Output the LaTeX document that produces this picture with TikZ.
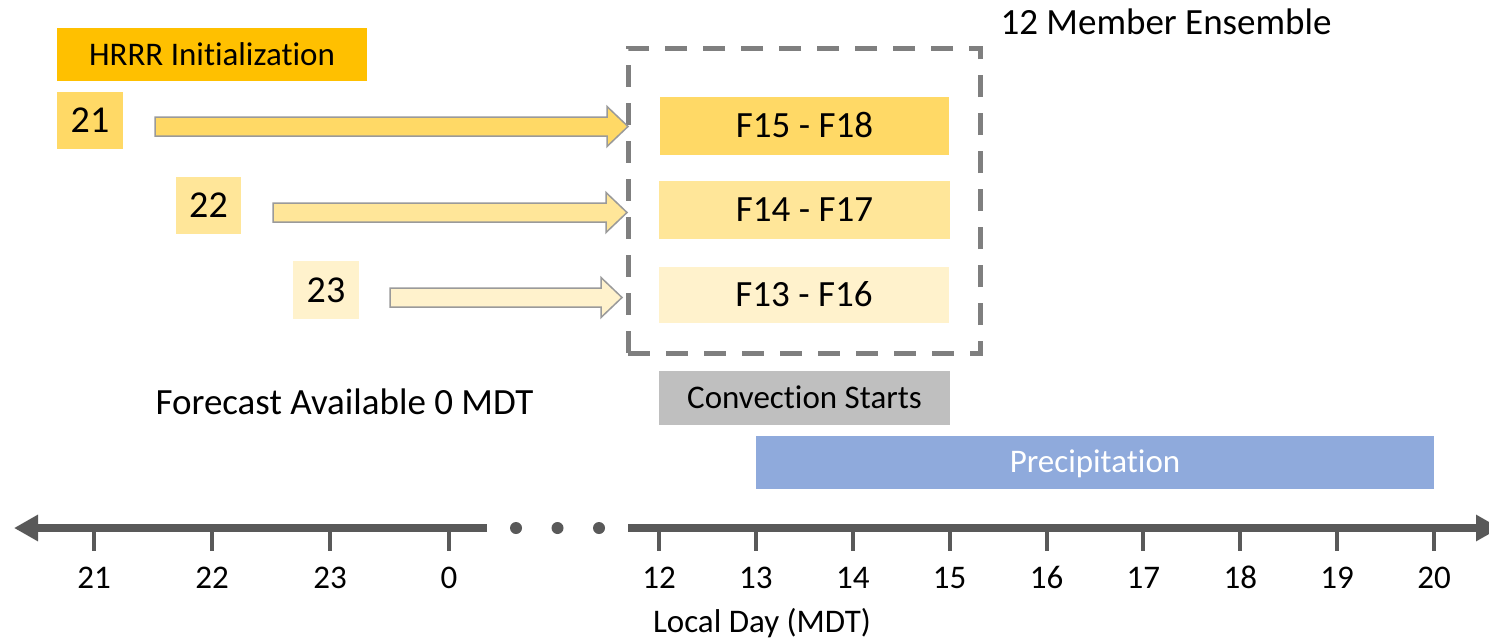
\documentclass[tikz,border=0pt]{standalone}
\usepackage{fontspec}
\setmainfont{Carlito}[Ligatures={NoCommon}]
\usetikzlibrary{arrows.meta,calc}
\definecolor{hrrr}{HTML}{FFC000}
\definecolor{cA}{HTML}{FFD966}
\definecolor{cB}{HTML}{FFE699}
\definecolor{cC}{HTML}{FFF2CC}
\definecolor{conv}{HTML}{BFBFBF}
\definecolor{precip}{HTML}{8FAADC}
\definecolor{axisgray}{HTML}{595959}
\definecolor{dashgray}{HTML}{7F7F7F}
\definecolor{arrowborder}{HTML}{9A9A9A}
\tikzset{
  fsmall/.style={font=\fontsize{33}{40}\selectfont},
  fbig/.style={font=\fontsize{37}{44}\selectfont},
  fnum/.style={font=\fontsize{38}{45}\selectfont},
  cbox/.style={inner sep=0pt, text depth=0pt, anchor=center},
  barrow/.style={draw=arrowborder, line width=1.5pt},
  axisline/.style={draw=axisgray, line width=8pt},
  tickline/.style={draw=axisgray, line width=4pt},
  ticklabel/.style={fsmall, anchor=base, inner sep=0pt},
}
\newcommand\blockarr[3]{%
  \filldraw[barrow, fill=#3] ($(#1)+(0,-9.5)$) -- ($(#2)+(-21,-9.5)$) -- ($(#2)+(-21,-20)$) -- (#2)
    -- ($(#2)+(-21,20)$) -- ($(#2)+(-21,9.5)$) -- ($(#1)+(0,9.5)$) -- cycle;}
\begin{document}
\begin{tikzpicture}[x=1pt,y=-1pt]
\useasboundingbox (0,0) rectangle (1489,640);
\clip (0,0) rectangle (1489,640);
\fill[white] (0,0) rectangle (1489,640);

% title texts
\node[fbig, anchor=base, inner sep=0pt] (ensT) at (1166,34) {12 Member Ensemble};
\node[cbox, fill=hrrr, fsmall, text height=21pt, minimum width=310pt, minimum height=53pt] (hrrr) at (212,54.5) {HRRR Initialization};

% init hour boxes
\node[cbox, fill=cA, fnum, text height=24pt, minimum width=66pt, minimum height=57pt] (h21) at (90,120.5) {21};
\node[cbox, fill=cB, fnum, text height=24pt, minimum width=65pt, minimum height=57pt] (h22) at (208.5,205.5) {22};
\node[cbox, fill=cC, fnum, text height=24pt, minimum width=66pt, minimum height=58pt] (h23) at (326,290) {23};

% forecast boxes
\node[cbox, fill=cA, fbig, text height=23.4pt, minimum width=289pt, minimum height=58pt] (f1) at (804.5,126) {F15 - F18};
\node[cbox, fill=cB, fbig, text height=23.4pt, minimum width=291pt, minimum height=58pt] (f2) at (804.5,210) {F14 - F17};
\node[cbox, fill=cC, fbig, text height=23.4pt, minimum width=290pt, minimum height=56pt] (f3) at (804,295) {F13 - F16};

% dashed ensemble box
\node[draw=dashgray, line width=5pt, dash pattern=on 22pt off 16pt, inner sep=0pt,
      minimum width=352pt, minimum height=305pt] (ens) at (804,200.5) {};

% block arrows
\coordinate (a1s) at (155,126.5); \coordinate (a1t) at (628,126.5);
\coordinate (a2s) at (273,212.5); \coordinate (a2t) at (627,212.5);
\coordinate (a3s) at (390,297.5); \coordinate (a3t) at (622,297.5);
\blockarr{a1s}{a1t}{cA}
\blockarr{a2s}{a2t}{cB}
\blockarr{a3s}{a3t}{cC}

% other labels
\node[fbig, anchor=base, inner sep=0pt] (avail) at (344.5,414) {Forecast Available 0 MDT};
\node[cbox, fill=conv, fsmall, text height=20.9pt, minimum width=291pt, minimum height=54pt] (conv) at (804.5,398) {Convection Starts};
\node[cbox, fill=precip, fsmall, text height=20.9pt, text=white, minimum width=678pt, minimum height=53pt] (prec) at (1095,462.5) {Precipitation};

% axis
\coordinate (axL) at (487,528); \coordinate (axLtip) at (14,528);
\coordinate (axR) at (628,528); \coordinate (axRtip) at (1500,528);
\draw[axisline, -{Triangle[length=24pt,width=25pt]}] (axL) -- (axLtip);
\draw[axisline, -{Triangle[length=24pt,width=25pt]}] (axR) -- (axRtip);
\foreach \dx [count=\i] in {516,557.5,599} \fill[axisgray] (\dx,528) circle (6pt);

\foreach \x/\l in {94/21,212/22,330/23,449/0} {
  \draw[tickline] (\x,528) -- (\x,551);
  \node[ticklabel] (t\l) at (\x,588) {\l};
}
\foreach \l [count=\i from 0] in {12,13,14,15,16,17,18,19,20} {
  \pgfmathsetmacro\xx{659+96.875*\i}
  \draw[tickline] (\xx,528) -- (\xx,551);
  \node[ticklabel] (t\l) at (\xx,588) {\l};
}
\node[fsmall, anchor=base, inner sep=0pt] (xlab) at (762,632) {Local Day (MDT)};
\end{tikzpicture}
\end{document}
